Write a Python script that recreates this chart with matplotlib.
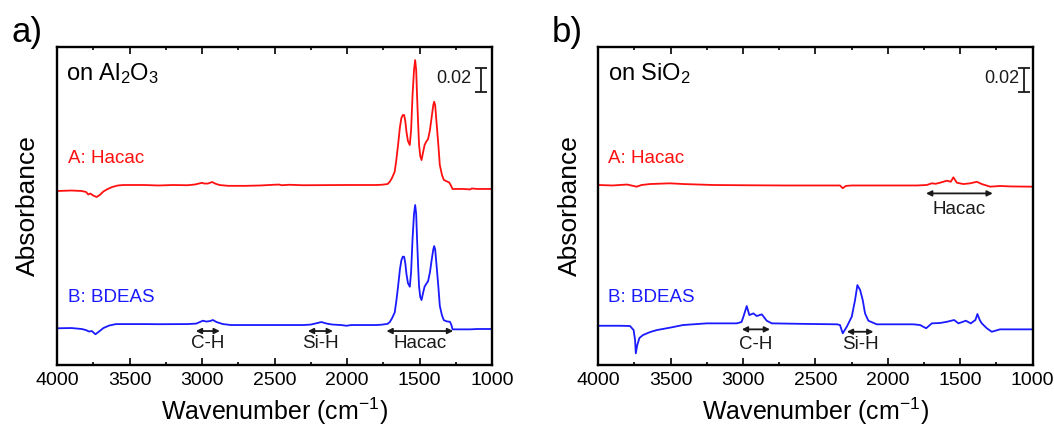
#!/usr/bin/env python3
"""FTIR difference spectra after Hacac / BDEAS exposure on Al2O3 and SiO2."""

import matplotlib

matplotlib.use("Agg")
import matplotlib.pyplot as plt
from matplotlib.ticker import MultipleLocator

plt.rcParams["font.family"] = ["Liberation Sans", "DejaVu Sans"]
plt.rcParams["mathtext.default"] = "regular"

# absorbance values are in units of 1e-3 (mOD), relative to each trace's baseline
# --- panel a: on Al2O3 ---
a_hacac_wn = [4000, 3900, 3830, 3800, 3785, 3770, 3750, 3727, 3705, 3680, 3650, 3620,
              3580, 3540, 3400, 3300, 3200, 3100, 3050, 3000, 2985, 2960, 2930, 2910,
              2880, 2820, 2700, 2600, 2470, 2450, 2400, 2300, 2000, 1800, 1760, 1720,
              1705, 1690, 1671, 1660, 1648, 1635, 1625, 1615, 1606, 1598, 1590, 1580,
              1567, 1558, 1548, 1538, 1530, 1523, 1517, 1510, 1503, 1495, 1486, 1475,
              1465, 1455, 1441, 1428, 1417, 1405, 1399, 1392, 1383, 1370, 1360, 1345,
              1332, 1310, 1296, 1285, 1272, 1200, 1150, 1140, 1100, 1000]
a_hacac_abs = [-5.0, -4.6, -5.0, -5.8, -7.9, -7.1, -8.8, -10.0, -8.3, -5.4, -3.3, -1.7,
               -0.4, 0.0, 0.0, -0.4, 0.0, -0.2, 0.4, 1.8, 1.2, 1.2, 2.5, 1.2,
               0.0, -0.7, -0.7, -0.4, 0.4, -0.2, 0.2, -0.2, 0.0, 0.0, 0.2, 0.8,
               2.7, 5.8, 11.1, 20.8, 33.3, 48.3, 55.8, 58.3, 58.3, 53.3, 44.4, 36.7,
               33.3, 45.8, 75.0, 95.8, 104.1, 95.8, 75.0, 52.5, 33.3, 24.2, 20.8, 27.5,
               33.3, 35.8, 38.3, 45.8, 55.8, 66.6, 69.4, 66.6, 52.7, 33.3, 16.7, 8.3,
               4.2, 2.9, 2.2, 0.0, -3.3, -3.3, -3.7, -2.9, -3.3, -3.3]

a_bdeas_wn = [4000, 3900, 3830, 3800, 3780, 3760, 3735, 3710, 3680, 3640, 3593, 3400,
              3300, 3100, 3040, 2994, 2970, 2945, 2925, 2900, 2856, 2800, 2500, 2300,
              2250, 2200, 2177, 2140, 2100, 2040, 2004, 1970, 1800, 1760, 1720, 1705,
              1690, 1671, 1660, 1648, 1635, 1625, 1615, 1606, 1598, 1590, 1580, 1567,
              1558, 1548, 1538, 1530, 1523, 1517, 1510, 1503, 1495, 1486, 1475, 1465,
              1455, 1441, 1428, 1417, 1405, 1399, 1392, 1383, 1370, 1360, 1345, 1332,
              1310, 1290, 1280, 1272, 1150, 1100, 1000]
a_bdeas_abs = [-2.7, -2.5, -3.3, -4.2, -5.4, -5.0, -7.7, -5.4, -2.5, -0.4, 0.8, 0.8,
               0.7, 0.8, 1.2, 3.6, 2.9, 3.3, 4.2, 2.5, 0.8, 0.0, 0.0, 0.0,
               0.4, 1.8, 2.5, 1.2, 0.4, 0.0, -0.6, 0.0, 0.0, 0.3, 1.0, 2.5,
               5.5, 10.5, 19.8, 32.0, 46.5, 54.0, 57.0, 56.9, 51.5, 42.5, 35.0, 31.9,
               44.0, 72.0, 92.5, 100.0, 92.5, 72.0, 50.5, 32.0, 23.5, 20.8, 27.0, 32.0,
               34.0, 36.5, 44.0, 53.5, 63.0, 65.8, 63.0, 50.5, 32.0, 16.0, 8.0, 4.0,
               3.0, 2.7, 0.0, -3.6, -3.6, -3.3, -3.3]

# --- panel b: on SiO2 ---
b_hacac_wn = [4000, 3900, 3800, 3734, 3700, 3642, 3504, 3412, 3205, 3000, 2700, 2400,
              2330, 2311, 2290, 2250, 2000, 1800, 1731, 1696, 1670, 1639, 1592, 1565,
              1547, 1523, 1478, 1431, 1385, 1351, 1293, 1225, 1150, 1000]
b_hacac_abs = [0.0, -0.4, 0.4, -1.4, 0.0, 0.8, 1.4, 0.8, 0.0, -0.2, -0.4, -0.4,
               -0.4, -2.7, -0.8, -0.4, -0.4, -0.4, 0.0, 1.4, 1.0, 1.9, 3.6, 2.7,
               6.4, 1.9, 0.8, 1.4, 2.7, 0.8, -1.4, -0.8, -1.2, -1.4]

b_bdeas_wn = [4000, 3850, 3780, 3755, 3745, 3740, 3730, 3715, 3690, 3640, 3595, 3500,
              3414, 3250, 3043, 3010, 2997, 2974, 2956, 2928, 2905, 2870, 2836, 2801,
              2600, 2350, 2330, 2311, 2283, 2249, 2226, 2210, 2191, 2173, 2157, 2134,
              2076, 1823, 1777, 1735, 1696, 1639, 1592, 1542, 1512, 1461, 1427, 1395,
              1381, 1365, 1351, 1316, 1282, 1225, 1000]
b_bdeas_abs = [-0.6, -0.6, -0.8, -4.2, -12.5, -23.6, -16.7, -10.8, -8.3, -5.8, -4.2, -2.1,
               0.0, 1.4, 1.4, 2.5, 6.9, 15.8, 8.3, 9.7, 7.5, 8.9, 3.6, 1.4,
               1.0, 0.6, 0.0, -6.9, -1.4, 6.9, 20.8, 33.3, 29.2, 20.8, 9.7, 3.6,
               0.6, 0.6, 0.0, -2.7, 1.4, 1.7, 2.7, 4.2, 1.4, 3.6, 1.4, 4.2,
               9.2, 4.2, 1.4, -2.7, -5.6, -3.6, -3.6]

offset_hacac = 150.0
offset_bdeas = 33.3

RED = "#ff1010"
BLUE = "#1a1aff"
INK = "#1a1a1a"


def style_axes(ax):
    ax.set_xlim(4000, 1000)
    ax.set_ylim(0, 265)
    ax.xaxis.set_major_locator(MultipleLocator(500))
    ax.xaxis.set_minor_locator(MultipleLocator(250))
    ax.tick_params(axis="x", which="both", direction="in", top=True, width=1.2,
                   labelsize=14, pad=5)
    ax.tick_params(axis="x", which="major", length=5)
    ax.tick_params(axis="x", which="minor", length=2.5)
    ax.set_yticks([])
    for sp in ax.spines.values():
        sp.set_linewidth(1.7)
    ax.set_xlabel("Wavenumber (cm$^{-1}$)", fontsize=18, labelpad=5)
    ax.set_ylabel("Absorbance", fontsize=19, labelpad=12)


def span_arrow(ax, x1, x2, y, label, ty):
    ax.annotate("", xy=(x2, y), xytext=(x1, y),
                arrowprops=dict(arrowstyle="<|-|>", color=INK, lw=1.3,
                                mutation_scale=8, shrinkA=0, shrinkB=0))
    ax.text((x1 + x2) / 2, ty, label, ha="center", va="center", fontsize=13.5, color=INK)


def scale_bar(ax, x_text, x_bar):
    ax.errorbar([x_bar], [237.5], yerr=[10], color=INK, capsize=4, elinewidth=1.3,
                capthick=1.3)
    ax.text(x_text, 239, "0.02", ha="center", va="center", fontsize=13, color=INK)


def main():
    fig = plt.figure(figsize=(10.54, 4.32), dpi=100)
    ax_a = fig.add_axes([0.0541, 0.1551, 0.4127, 0.7361])
    ax_b = fig.add_axes([0.5675, 0.1551, 0.4122, 0.7361])

    # panel a
    ax_a.plot(a_hacac_wn, [v + offset_hacac for v in a_hacac_abs], color=RED, lw=1.3)
    ax_a.plot(a_bdeas_wn, [v + offset_bdeas for v in a_bdeas_abs], color=BLUE, lw=1.3)
    style_axes(ax_a)
    ax_a.text(0.021, 0.915, "on Al$_2$O$_3$", transform=ax_a.transAxes, fontsize=17,
              va="center", ha="left")
    ax_a.text(0.025, 0.648, "A: Hacac", transform=ax_a.transAxes, fontsize=13.5,
              color=RED, va="center", ha="left")
    ax_a.text(0.025, 0.211, "B: BDEAS", transform=ax_a.transAxes, fontsize=13.5,
              color=BLUE, va="center", ha="left")
    span_arrow(ax_a, 3043, 2877, 28.3, "C-H", 17.5)
    span_arrow(ax_a, 2270, 2097, 28.3, "Si-H", 17.5)
    span_arrow(ax_a, 1728, 1268, 28.3, "Hacac", 17.5)
    scale_bar(ax_a, 1263, 1076)

    # panel b
    ax_b.plot(b_hacac_wn, [v + offset_hacac for v in b_hacac_abs], color=RED, lw=1.3)
    ax_b.plot(b_bdeas_wn, [v + offset_bdeas for v in b_bdeas_abs], color=BLUE, lw=1.3)
    style_axes(ax_b)
    ax_b.text(0.023, 0.915, "on SiO$_2$", transform=ax_b.transAxes, fontsize=17,
              va="center", ha="left")
    ax_b.text(0.023, 0.648, "A: Hacac", transform=ax_b.transAxes, fontsize=13.5,
              color=RED, va="center", ha="left")
    ax_b.text(0.023, 0.211, "B: BDEAS", transform=ax_b.transAxes, fontsize=13.5,
              color=BLUE, va="center", ha="left")
    span_arrow(ax_b, 3008, 2813, 29.7, "C-H", 16.7)
    span_arrow(ax_b, 2283, 2099, 27.7, "Si-H", 17.0)
    span_arrow(ax_b, 1736, 1275, 143.0, "Hacac", 129.7)
    scale_bar(ax_b, 1211, 1059)

    fig.text(0.011, 0.925, "a)", fontsize=25, va="center", ha="left")
    fig.text(0.523, 0.925, "b)", fontsize=25, va="center", ha="left")

    fig.savefig("out.png", dpi=100)
    plt.close(fig)


if __name__ == "__main__":
    main()
